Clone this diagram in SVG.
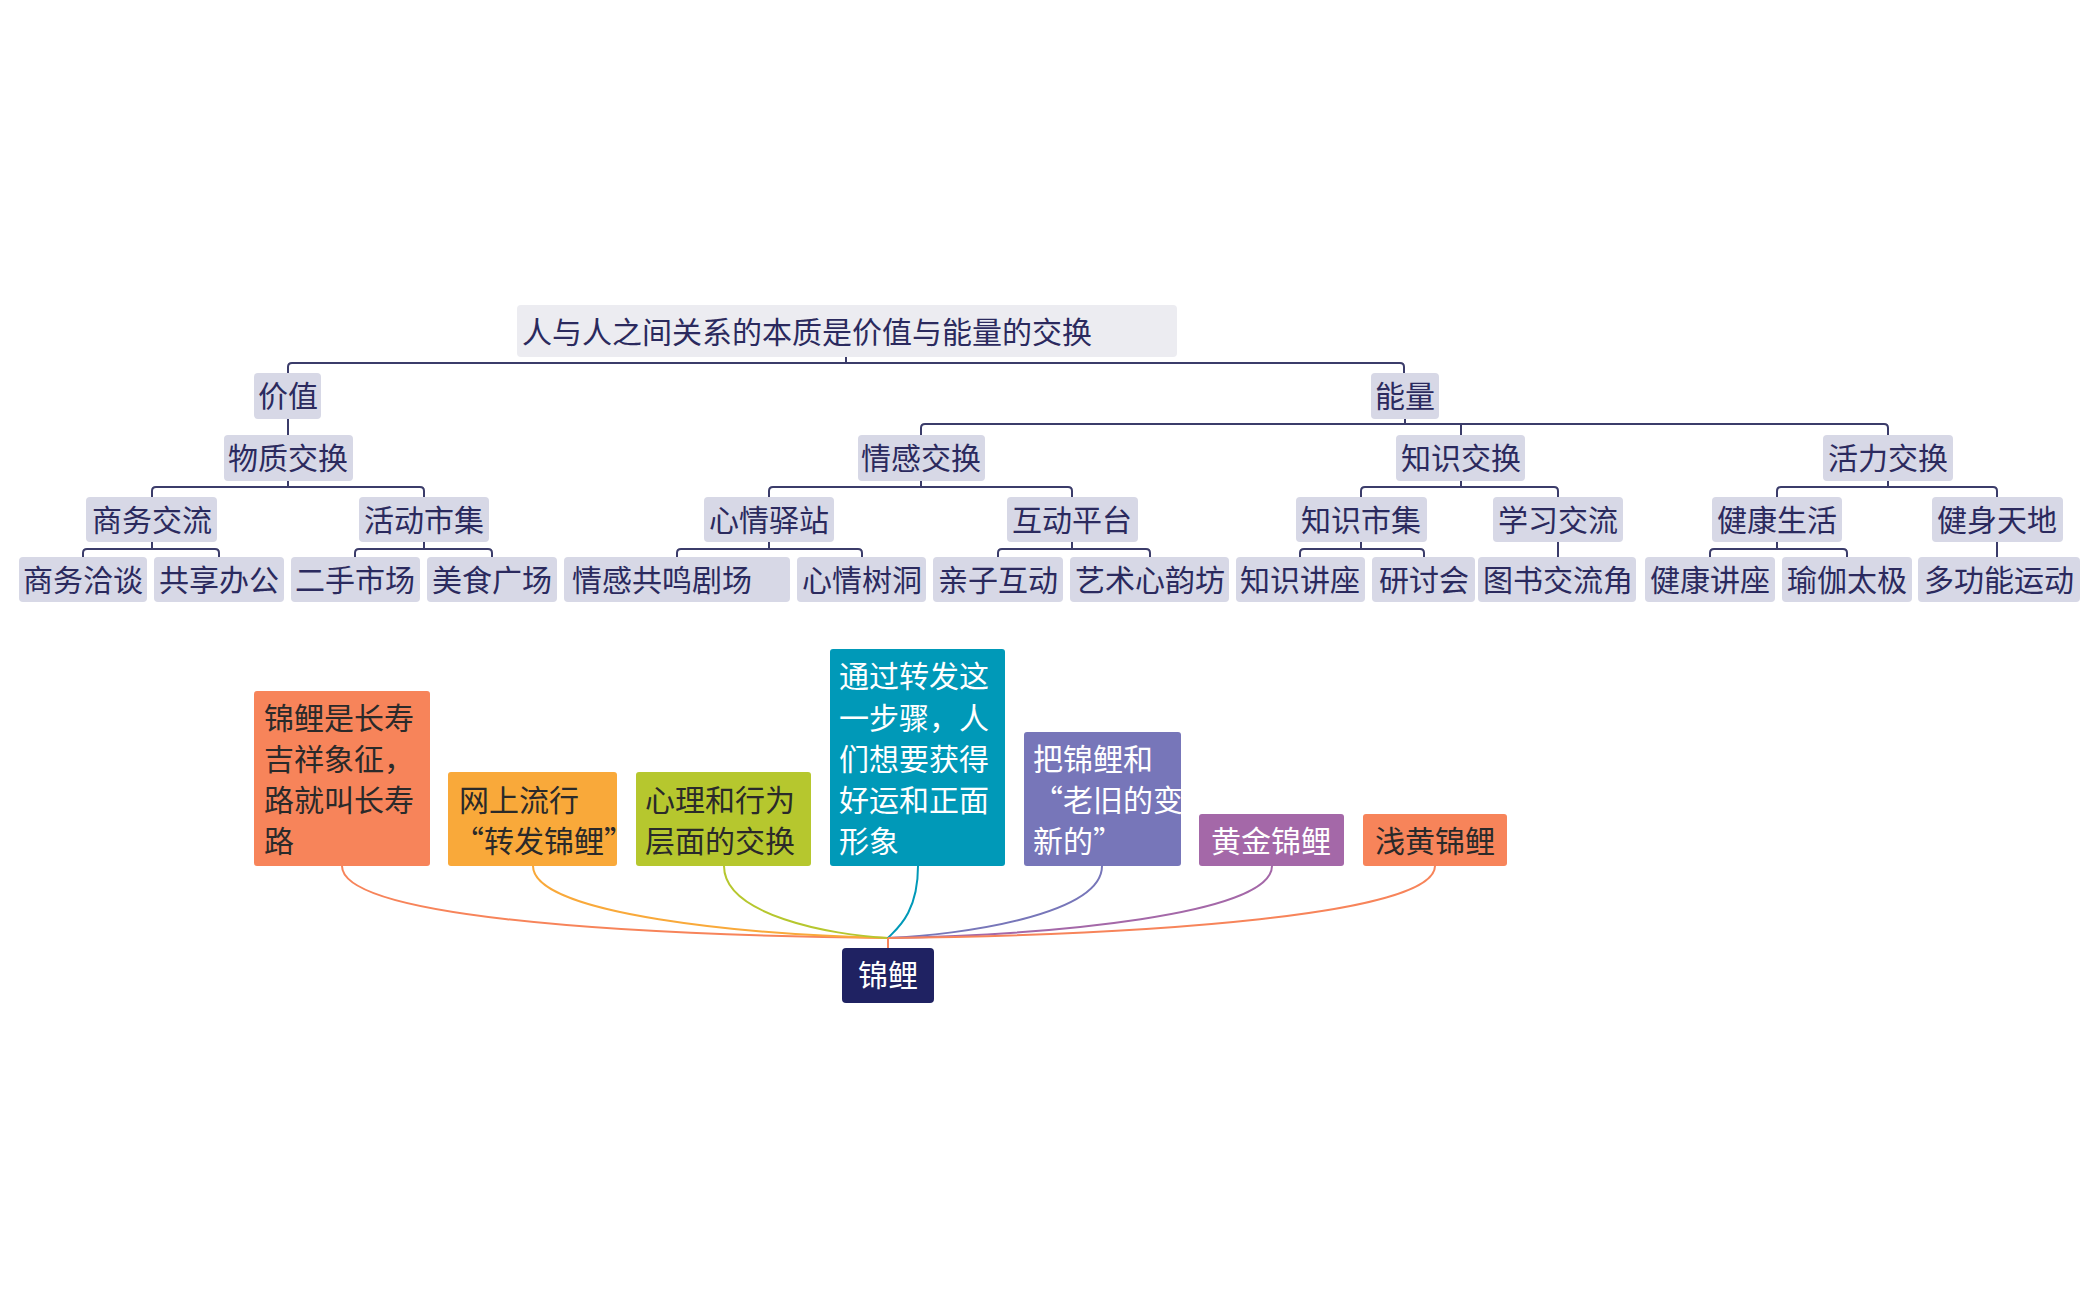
<svg xmlns="http://www.w3.org/2000/svg" width="2099" height="1300" viewBox="0 0 2099 1300">
<style>
text{font-family:"Noto Sans CJK SC","Noto Sans",sans-serif;font-size:30px}
.n rect{fill:#d7d8e6}
.n text{fill:#2b2a5e;text-anchor:middle}
.c path{fill:none;stroke:#3b3c6a;stroke-width:2}
.f path{fill:none;stroke-width:2}
.w{fill:#fff}
.d{fill:#2a2a2a}
</style>
<rect width="2099" height="1300" fill="#fff"/>
<g class="c">
<path d="M846,357V363M288,373V367Q288,363 292,363H1400Q1404,363 1404,367V373"/>
<path d="M288,419V435"/>
<path d="M1405,419V424M921,435V428Q921,424 925,424H1884Q1888,424 1888,428V435M1461,424V435"/>
<path d="M288,481V487M152,497V491Q152,487 156,487H420Q424,487 424,491V497"/>
<path d="M921,481V487M769,497V491Q769,487 773,487H1068Q1072,487 1072,491V497"/>
<path d="M1461,481V487M1361,497V491Q1361,487 1365,487H1554Q1558,487 1558,491V497"/>
<path d="M1888,481V487M1777,497V491Q1777,487 1781,487H1993Q1997,487 1997,491V497"/>
<path d="M152,542V549M83,557V553Q83,549 87,549H215Q219,549 219,553V557"/>
<path d="M424,542V549M355,557V553Q355,549 359,549H488Q492,549 492,553V557"/>
<path d="M769,542V549M677,557V553Q677,549 681,549H858Q862,549 862,553V557"/>
<path d="M1072,542V549M998,557V553Q998,549 1002,549H1146Q1150,549 1150,553V557"/>
<path d="M1361,542V549M1300,557V553Q1300,549 1304,549H1420Q1424,549 1424,553V557"/>
<path d="M1558,542V557"/>
<path d="M1777,542V549M1710,557V553Q1710,549 1714,549H1843Q1847,549 1847,553V557"/>
<path d="M1997,542V557"/>
</g>
<g class="f">
<path stroke="#f7845a" d="M342,866C342,915 600,935 888,938"/>
<path stroke="#f9a93a" d="M533,866C533,915 750,935 888,938"/>
<path stroke="#b6c72e" d="M724,866C724,915 830,935 888,938"/>
<path stroke="#0099b8" d="M918,866C918,915 895,930 888,938"/>
<path stroke="#7776b9" d="M1102,866C1102,915 960,935 888,938"/>
<path stroke="#a468a8" d="M1272,866C1272,915 1050,935 888,938"/>
<path stroke="#f7845a" d="M1435,866C1435,915 1150,935 888,938"/>
<path stroke="#f7845a" d="M888,938V948"/>
</g>
<g id="root"><rect x="517" y="305" width="660" height="52" rx="4" fill="#ececf1"/><text x="522" y="343" fill="#2b2a5e">人与人之间关系的本质是价值与能量的交换</text></g>
<g id="n1" class="n"><rect x="254" y="373" width="67" height="46" rx="4"/><text x="288" y="407">价值</text></g>
<g id="n2" class="n"><rect x="1371" y="373" width="68" height="46" rx="4"/><text x="1405" y="407">能量</text></g>
<g id="n3" class="n"><rect x="224" y="435" width="129" height="46" rx="4"/><text x="288" y="469">物质交换</text></g>
<g id="n4" class="n"><rect x="858" y="435" width="127" height="46" rx="4"/><text x="921" y="469">情感交换</text></g>
<g id="n5" class="n"><rect x="1396" y="435" width="129" height="46" rx="4"/><text x="1461" y="469">知识交换</text></g>
<g id="n6" class="n"><rect x="1823" y="435" width="130" height="46" rx="4"/><text x="1888" y="469">活力交换</text></g>
<g id="n7" class="n"><rect x="86" y="497" width="131" height="45" rx="4"/><text x="152" y="531">商务交流</text></g>
<g id="n8" class="n"><rect x="359" y="497" width="130" height="45" rx="4"/><text x="424" y="531">活动市集</text></g>
<g id="n9" class="n"><rect x="704" y="497" width="130" height="45" rx="4"/><text x="769" y="531">心情驿站</text></g>
<g id="n10" class="n"><rect x="1007" y="497" width="131" height="45" rx="4"/><text x="1072" y="531">互动平台</text></g>
<g id="n11" class="n"><rect x="1296" y="497" width="131" height="45" rx="4"/><text x="1361" y="531">知识市集</text></g>
<g id="n12" class="n"><rect x="1493" y="497" width="130" height="45" rx="4"/><text x="1558" y="531">学习交流</text></g>
<g id="n13" class="n"><rect x="1712" y="497" width="130" height="45" rx="4"/><text x="1777" y="531">健康生活</text></g>
<g id="n14" class="n"><rect x="1932" y="497" width="131" height="45" rx="4"/><text x="1997" y="531">健身天地</text></g>
<g id="l1" class="n"><rect x="19" y="557" width="128" height="45" rx="4"/><text x="83" y="591">商务洽谈</text></g>
<g id="l2" class="n"><rect x="154" y="557" width="130" height="45" rx="4"/><text x="219" y="591">共享办公</text></g>
<g id="l3" class="n"><rect x="291" y="557" width="129" height="45" rx="4"/><text x="355" y="591">二手市场</text></g>
<g id="l4" class="n"><rect x="427" y="557" width="130" height="45" rx="4"/><text x="492" y="591">美食广场</text></g>
<g id="l5" class="n"><rect x="564" y="557" width="226" height="45" rx="4"/><text x="662" y="591">情感共鸣剧场</text></g>
<g id="l6" class="n"><rect x="797" y="557" width="129" height="45" rx="4"/><text x="862" y="591">心情树洞</text></g>
<g id="l7" class="n"><rect x="933" y="557" width="130" height="45" rx="4"/><text x="998" y="591">亲子互动</text></g>
<g id="l8" class="n"><rect x="1070" y="557" width="159" height="45" rx="4"/><text x="1150" y="591">艺术心韵坊</text></g>
<g id="l9" class="n"><rect x="1236" y="557" width="129" height="45" rx="4"/><text x="1300" y="591">知识讲座</text></g>
<g id="l10" class="n"><rect x="1372" y="557" width="103" height="45" rx="4"/><text x="1424" y="591">研讨会</text></g>
<g id="l11" class="n"><rect x="1478" y="557" width="158" height="45" rx="4"/><text x="1558" y="591">图书交流角</text></g>
<g id="l12" class="n"><rect x="1645" y="557" width="130" height="45" rx="4"/><text x="1710" y="591">健康讲座</text></g>
<g id="l13" class="n"><rect x="1782" y="557" width="130" height="45" rx="4"/><text x="1847" y="591">瑜伽太极</text></g>
<g id="l14" class="n"><rect x="1918" y="557" width="162" height="45" rx="4"/><text x="1999" y="591">多功能运动</text></g>
<g id="b1"><rect x="254" y="691" width="176" height="175" rx="3" fill="#f7845a"/><text class="d" x="264"><tspan x="264" y="729">锦鲤是长寿</tspan><tspan x="264" y="770">吉祥象征，</tspan><tspan x="264" y="811">路就叫长寿</tspan><tspan x="264" y="852">路</tspan></text></g>
<g id="b2"><rect x="448" y="772" width="169" height="94" rx="3" fill="#f9a93a"/><text class="d"><tspan x="459" y="811">网上流行</tspan><tspan x="454" y="852">“转发锦鲤”</tspan></text></g>
<g id="b3"><rect x="636" y="772" width="175" height="94" rx="3" fill="#b6c72e"/><text class="d"><tspan x="645" y="811">心理和行为</tspan><tspan x="645" y="852">层面的交换</tspan></text></g>
<g id="b4"><rect x="830" y="649" width="175" height="217" rx="3" fill="#0099b8"/><text class="w"><tspan x="839" y="687">通过转发这</tspan><tspan x="839" y="729">一步骤，人</tspan><tspan x="839" y="770">们想要获得</tspan><tspan x="839" y="811">好运和正面</tspan><tspan x="839" y="852">形象</tspan></text></g>
<g id="b5"><rect x="1024" y="732" width="157" height="134" rx="3" fill="#7776b9"/><text class="w"><tspan x="1033" y="770">把锦鲤和</tspan><tspan x="1033" y="811">“老旧的变</tspan><tspan x="1033" y="852">新的”</tspan></text></g>
<g id="b6"><rect x="1199" y="814" width="145" height="52" rx="3" fill="#a468a8"/><text class="w" x="1271" y="852" text-anchor="middle">黄金锦鲤</text></g>
<g id="b7"><rect x="1363" y="814" width="144" height="52" rx="3" fill="#f7845a"/><text class="d" x="1435" y="852" text-anchor="middle">浅黄锦鲤</text></g>
<g id="hub"><rect x="842" y="948" width="92" height="55" rx="4" fill="#1f2262"/><text class="w" x="888" y="986" text-anchor="middle">锦鲤</text></g>
</svg>
